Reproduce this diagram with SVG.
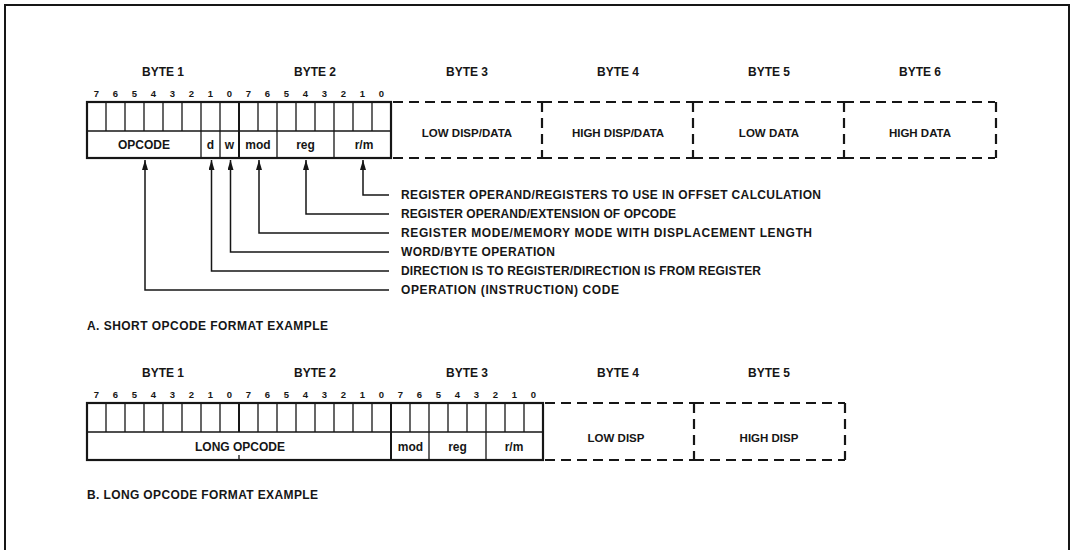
<svg xmlns="http://www.w3.org/2000/svg" width="1071" height="550" viewBox="0 0 1071 550">
<style>
text{font-family:"Liberation Sans",Arial,Helvetica,sans-serif;font-weight:bold;fill:#161616}
.byte{font-size:12px;text-anchor:middle}
.bit{font-size:9.5px;text-anchor:middle}
.fld{font-size:12px;text-anchor:middle}
.dsh{font-size:11.5px;text-anchor:middle}
.lbl{font-size:12px}
.sec{font-size:12px}
.box{fill:none;stroke:#161616;stroke-width:2.2}
.cell{stroke:#161616;stroke-width:1.3;fill:none}
.bb{stroke:#161616;stroke-width:2;fill:none}
.dash{stroke:#161616;stroke-width:2.2;stroke-dasharray:10 6;fill:none}
.con{stroke:#161616;stroke-width:1.5;fill:none}
.frame{stroke:#161616;stroke-width:2;fill:none}
</style>
<defs>
<marker id="ah" viewBox="0 0 10 6" refX="10" refY="3" markerWidth="10" markerHeight="6" markerUnits="userSpaceOnUse" orient="auto">
<path d="M0,0 L10,3 L0,6 z" fill="#161616"/>
</marker>
</defs>
<rect width="1071" height="550" fill="#fff"/>
<path class="frame" d="M5,550 V5 H1069 V550"/>

<g id="formatA">
<g id="byteLabelsA">
<text class="byte" x="163" y="76">BYTE 1</text>
<text class="byte" x="315" y="76">BYTE 2</text>
<text class="byte" x="467" y="76">BYTE 3</text>
<text class="byte" x="618" y="76">BYTE 4</text>
<text class="byte" x="769" y="76">BYTE 5</text>
<text class="byte" x="920" y="76">BYTE 6</text>
</g>
<g id="bitsA">
<text class="bit" x="96.5" y="96.5">7</text><text class="bit" x="115.5" y="96.5">6</text><text class="bit" x="134.5" y="96.5">5</text><text class="bit" x="153.5" y="96.5">4</text><text class="bit" x="172.5" y="96.5">3</text><text class="bit" x="191.5" y="96.5">2</text><text class="bit" x="210.5" y="96.5">1</text><text class="bit" x="229.5" y="96.5">0</text>
<text class="bit" x="248.5" y="96.5">7</text><text class="bit" x="267.5" y="96.5">6</text><text class="bit" x="286.5" y="96.5">5</text><text class="bit" x="305.5" y="96.5">4</text><text class="bit" x="324.5" y="96.5">3</text><text class="bit" x="343.5" y="96.5">2</text><text class="bit" x="362.5" y="96.5">1</text><text class="bit" x="381.5" y="96.5">0</text>
</g>
<g id="bytes12A">
<path class="cell" d="M106,102V131M125,102V131M144,102V131M163,102V131M182,102V131M201,102V158M220,102V158M258,102V131M277,102V158M296,102V131M315,102V131M334,102V158M353,102V131M372,102V131"/>
<path class="bb" d="M239,102V158"/>
<path class="cell" d="M87,131H391"/>
<rect class="box" x="87" y="102" width="304" height="56"/>
<text class="fld" x="144" y="149">OPCODE</text>
<text class="fld" x="210.5" y="149">d</text>
<text class="fld" x="229.5" y="149">w</text>
<text class="fld" x="258" y="149">mod</text>
<text class="fld" x="305.5" y="149">reg</text>
<text class="fld" x="364" y="149">r/m</text>
</g>
<g id="byte3A">
<path class="dash" d="M393,102H542M393,158H542"/>
<text class="dsh" x="467" y="137">LOW DISP/DATA</text>
</g>
<g id="byte4A">
<path class="dash" d="M542,102H693M542,158H693M542,102V158"/>
<text class="dsh" x="618" y="137">HIGH DISP/DATA</text>
</g>
<g id="byte5A">
<path class="dash" d="M693,102H844M693,158H844M693,102V158"/>
<text class="dsh" x="769" y="137">LOW DATA</text>
</g>
<g id="byte6A">
<path class="dash" d="M844,102H995M844,158H995M844,102V158M996,102V158"/>
<text class="dsh" x="920" y="137">HIGH DATA</text>
</g>
</g>

<g id="connectors">
<path class="con" d="M389,195H363V160" marker-end="url(#ah)"/>
<path class="con" d="M389,214H306V160" marker-end="url(#ah)"/>
<path class="con" d="M389,233H259V160" marker-end="url(#ah)"/>
<path class="con" d="M389,252H230.5V160" marker-end="url(#ah)"/>
<path class="con" d="M389,271H211.5V160" marker-end="url(#ah)"/>
<path class="con" d="M389,290H145V160" marker-end="url(#ah)"/>
</g>

<g id="fieldLabels">
<text class="lbl" x="401" y="199" textLength="420" lengthAdjust="spacing">REGISTER OPERAND/REGISTERS TO USE IN OFFSET CALCULATION</text>
<text class="lbl" x="401" y="218" textLength="275" lengthAdjust="spacing">REGISTER OPERAND/EXTENSION OF OPCODE</text>
<text class="lbl" x="401" y="237" textLength="411" lengthAdjust="spacing">REGISTER MODE/MEMORY MODE WITH DISPLACEMENT LENGTH</text>
<text class="lbl" x="401" y="256" textLength="154" lengthAdjust="spacing">WORD/BYTE OPERATION</text>
<text class="lbl" x="401" y="275" textLength="360" lengthAdjust="spacing">DIRECTION IS TO REGISTER/DIRECTION IS FROM REGISTER</text>
<text class="lbl" x="401" y="294" textLength="218" lengthAdjust="spacing">OPERATION (INSTRUCTION) CODE</text>
</g>

<text class="sec" x="87" y="329.5" textLength="241" lengthAdjust="spacing">A.  SHORT OPCODE FORMAT EXAMPLE</text>

<g id="formatB">
<g id="byteLabelsB">
<text class="byte" x="163" y="377">BYTE 1</text>
<text class="byte" x="315" y="377">BYTE 2</text>
<text class="byte" x="467" y="377">BYTE 3</text>
<text class="byte" x="618" y="377">BYTE 4</text>
<text class="byte" x="769" y="377">BYTE 5</text>
</g>
<g id="bitsB">
<text class="bit" x="96.5" y="397.5">7</text><text class="bit" x="115.5" y="397.5">6</text><text class="bit" x="134.5" y="397.5">5</text><text class="bit" x="153.5" y="397.5">4</text><text class="bit" x="172.5" y="397.5">3</text><text class="bit" x="191.5" y="397.5">2</text><text class="bit" x="210.5" y="397.5">1</text><text class="bit" x="229.5" y="397.5">0</text>
<text class="bit" x="248.5" y="397.5">7</text><text class="bit" x="267.5" y="397.5">6</text><text class="bit" x="286.5" y="397.5">5</text><text class="bit" x="305.5" y="397.5">4</text><text class="bit" x="324.5" y="397.5">3</text><text class="bit" x="343.5" y="397.5">2</text><text class="bit" x="362.5" y="397.5">1</text><text class="bit" x="381.5" y="397.5">0</text>
<text class="bit" x="400.5" y="397.5">7</text><text class="bit" x="419.5" y="397.5">6</text><text class="bit" x="438.5" y="397.5">5</text><text class="bit" x="457.5" y="397.5">4</text><text class="bit" x="476.5" y="397.5">3</text><text class="bit" x="495.5" y="397.5">2</text><text class="bit" x="514.5" y="397.5">1</text><text class="bit" x="533.5" y="397.5">0</text>
</g>
<g id="bytes123B">
<path class="cell" d="M106,403V432M125,403V432M144,403V432M163,403V432M182,403V432M201,403V432M220,403V432M258,403V432M277,403V432M296,403V432M315,403V432M334,403V432M353,403V432M372,403V432M410,403V432M429,403V460M448,403V432M467,403V432M486,403V460M505,403V432M524,403V432"/>
<path class="bb" d="M239,403V432M391,403V460"/>
<path class="cell" d="M87,432H543M239,460V455"/>
<rect class="box" x="87" y="403" width="456" height="57"/>
<text class="fld" x="240" y="451">LONG OPCODE</text>
<text class="fld" x="410.5" y="451">mod</text>
<text class="fld" x="457.5" y="451">reg</text>
<text class="fld" x="514" y="451">r/m</text>
</g>
<g id="byte4B">
<path class="dash" d="M545,403H694M545,460H694"/>
<text class="dsh" x="616" y="441.5">LOW DISP</text>
</g>
<g id="byte5B">
<path class="dash" d="M694,403H845M694,460H845M694,403V460M845,403V460"/>
<text class="dsh" x="769" y="441.5">HIGH DISP</text>
</g>
</g>

<text class="sec" x="87" y="499" textLength="231" lengthAdjust="spacing">B.  LONG OPCODE FORMAT EXAMPLE</text>
</svg>
